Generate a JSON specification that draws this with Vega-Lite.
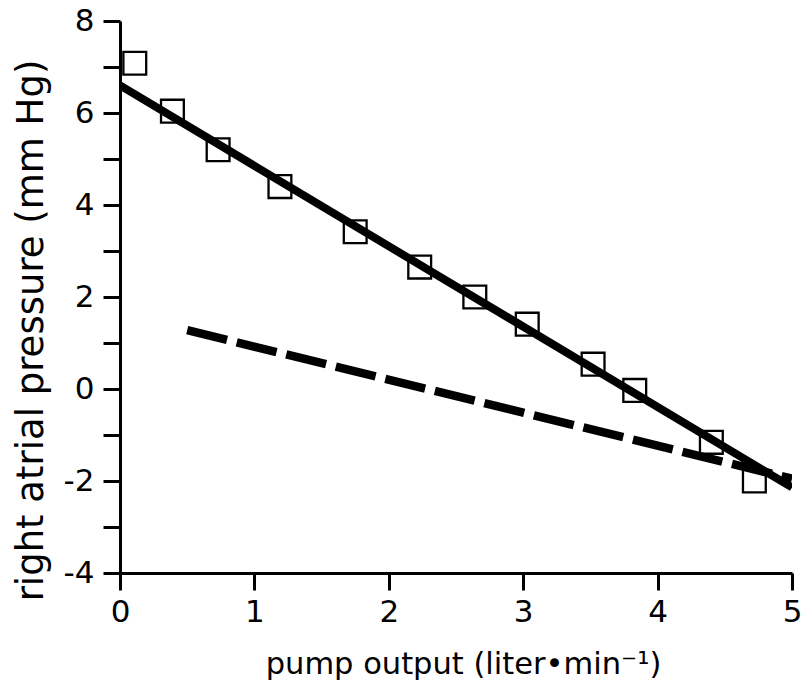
{
  "$schema": "https://vega.github.io/schema/vega-lite/v6.json",
  "width": 672,
  "height": 552,
  "autosize": {"type": "none"},
  "padding": {"left": 120, "top": 21, "right": 12, "bottom": 112},
  "background": "white",
  "config": {
    "view": {"stroke": null},
    "font": "DejaVu Sans",
    "axis": {
      "domainColor": "black",
      "domainWidth": 3,
      "tickColor": "black",
      "tickWidth": 3,
      "tickSize": 17,
      "labelColor": "black",
      "titleColor": "black",
      "labelFont": "DejaVu Sans",
      "titleFont": "DejaVu Sans",
      "labelFontSize": 31,
      "titleFontWeight": "normal",
      "grid": false
    }
  },
  "datasets": {
    "pts": [
      {"flow": 0.11, "pressure": 7.08},
      {"flow": 0.39, "pressure": 6.04},
      {"flow": 0.73, "pressure": 5.2},
      {"flow": 1.19, "pressure": 4.4},
      {"flow": 1.75, "pressure": 3.42},
      {"flow": 2.23, "pressure": 2.65},
      {"flow": 2.64, "pressure": 2.0},
      {"flow": 3.03, "pressure": 1.41},
      {"flow": 3.52, "pressure": 0.54},
      {"flow": 3.83, "pressure": -0.03},
      {"flow": 4.4, "pressure": -1.16},
      {"flow": 4.72, "pressure": -2.0}
    ],
    "fit": [
      {"flow": 0, "pressure": 6.6},
      {"flow": 5, "pressure": -2.14}
    ],
    "dashed": [
      {"flow": 0.5, "pressure": 1.28},
      {"flow": 5, "pressure": -1.95}
    ]
  },
  "layer": [
    {
      "data": {"name": "fit"},
      "mark": {"type": "line", "color": "black", "strokeWidth": 8, "clip": true},
      "encoding": {
        "x": {
          "field": "flow", "type": "quantitative",
          "scale": {"domain": [0, 5], "nice": false, "zero": false},
          "axis": {
            "values": [0, 1, 2, 3, 4, 5],
            "labelExpr": "toString(datum.value)",
            "labelFontSize": 31,
            "title": "pump output  (liter•min⁻¹)",
            "titleFontSize": 30.5,
            "titleX": 343,
            "titleY": 100,
            "titleAlign": "center",
            "titleBaseline": "alphabetic",
            "labelPadding": 7,
            "labelFlush": false
          }
        },
        "y": {
          "field": "pressure", "type": "quantitative",
          "scale": {"domain": [-4, 8], "nice": false, "zero": false},
          "axis": {
            "values": [-4, -3, -2, -1, 0, 1, 2, 3, 4, 5, 6, 7, 8],
            "labelExpr": "datum.value % 2 == 0 ? toString(datum.value) : ''",
            "labelFontSize": 31,
            "title": "right atrial pressure (mm Hg)",
            "titleFontSize": 37,
            "titleX": -78,
            "titleY": 309,
            "titleAngle": 270,
            "titleAlign": "center",
            "titleBaseline": "alphabetic",
            "labelPadding": 9,
            "labelFlush": false
          }
        }
      }
    },
    {
      "data": {"name": "dashed"},
      "mark": {"type": "line", "color": "black", "strokeWidth": 8.5, "strokeDash": [41, 10], "clip": true},
      "encoding": {
        "x": {"field": "flow", "type": "quantitative"},
        "y": {"field": "pressure", "type": "quantitative"}
      }
    },
    {
      "data": {"name": "pts"},
      "mark": {"type": "point", "shape": "square", "filled": false, "color": "black", "strokeWidth": 2.3, "size": 520, "opacity": 1},
      "encoding": {
        "x": {"field": "flow", "type": "quantitative"},
        "y": {"field": "pressure", "type": "quantitative"}
      }
    }
  ]
}
